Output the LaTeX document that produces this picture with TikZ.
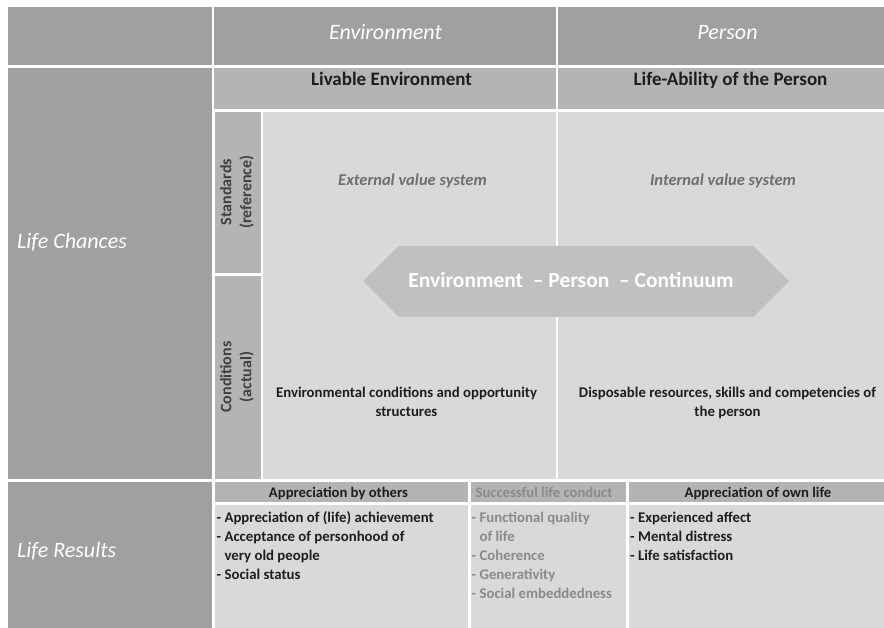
\documentclass[tikz,border=0pt]{standalone}
\usepackage{fontspec}
\setmainfont{Carlito}
\definecolor{hdr}{HTML}{A0A0A0}
\definecolor{sub}{HTML}{B4B4B4}
\definecolor{lite}{HTML}{D9D9D9}
\definecolor{hexc}{HTML}{C0C0C0}
\definecolor{grtxt}{HTML}{6E6E6E}
\definecolor{gr2}{HTML}{8A8A8A}
\definecolor{dark}{HTML}{1E1E1E}
\begin{document}
\begin{tikzpicture}[x=1pt,y=-1pt,
  hdrtext/.style={text=white,font=\fontsize{22}{24}\selectfont\itshape,inner sep=0pt,anchor=base},
  subtext/.style={text=dark,font=\fontsize{19}{22}\selectfont\bfseries,inner sep=0pt,anchor=base},
  sidetext/.style={text=dark!85,font=\fontsize{16}{20}\selectfont\bfseries,inner sep=0pt,rotate=90,align=center},
  valtext/.style={text=grtxt,font=\fontsize{16.5}{19}\selectfont\bfseries\itshape,inner sep=0pt,anchor=base},
  bodytext/.style={text=dark,font=\fontsize{14.8}{19}\selectfont\bfseries,inner sep=0pt,anchor=base},
  bhead/.style={text=dark,font=\fontsize{14.7}{17}\selectfont\bfseries,inner sep=0pt,anchor=base},
  listtext/.style={text=dark,font=\fontsize{14.8}{19}\selectfont\bfseries,inner sep=0pt,anchor=base west}]
\useasboundingbox[fill=white] (0,0) rectangle (884,628);
% header row
\fill[hdr] (8,7) rectangle (212,65);
\fill[hdr] (214,7) rectangle (556,65);
\fill[hdr] (558,7) rectangle (884,65);
% left column
\fill[hdr] (8,68) rectangle (212,479);
\fill[hdr] (8,482) rectangle (212,628);
% sub header
\fill[sub] (214,68) rectangle (556,109);
\fill[sub] (558,68) rectangle (884,109);
% side labels
\fill[sub] (215,112) rectangle (261,273);
\fill[sub] (215,276) rectangle (261,479);
% light areas
\fill[lite] (263,112) rectangle (556,479);
\fill[lite] (558,112) rectangle (884,479);
% bottom
\fill[sub] (215,482) rectangle (468,502);
\fill[sub] (471,482) rectangle (626,502);
\fill[sub] (629,482) rectangle (884,502);
\fill[lite] (215,505) rectangle (468,628);
\fill[lite] (471,505) rectangle (626,628);
\fill[lite] (629,505) rectangle (884,628);
% hexagon
\fill[hexc] (363,281) -- (399,246) -- (753,246) -- (789,281) -- (753,317) -- (399,317) -- cycle;

% texts
\node[hdrtext] (env) at (385.5,40) {Environment};
\node[hdrtext] (per) at (727.5,40) {Person};
\node[subtext] (liv) at (391.5,86) {Livable Environment};
\node[subtext] (abl) at (730.5,86) {Life-Ability of the Person};
\node[hdrtext,anchor=base west] (lch) at (17,249) {Life Chances};
\node[hdrtext,anchor=base west] (lres) at (17,557) {Life Results};
\node[sidetext] (std) at (237,192) {Standards\\(reference)};
\node[sidetext] (cond) at (237,377) {Conditions\\(actual)};
\node[valtext] (ext) at (412.5,186) {External value system};
\node[valtext] (int) at (723,186) {Internal\ value system};
\node[text=white,font=\fontsize{21.5}{24}\selectfont\bfseries,inner sep=0pt,anchor=base] (cont) at (571,288) {Environment\ \ – Person\ \ – Continuum};
\node[bodytext] (envc1) at (406.5,398) {Environmental conditions and opportunity};
\node[bodytext] (envc2) at (406.5,417) {structures};
\node[bodytext] (disp1) at (727.5,398) {Disposable resources, skills and competencies of};
\node[bodytext] (disp2) at (727.5,417) {the person};
\node[bhead] (aby) at (338.5,497.5) {Appreciation by others};
\node[bhead,text=gr2] (slc) at (544,497.5) {Successful life conduct};
\node[bhead] (aol) at (758,497.5) {Appreciation of own life};
% lists
\node[listtext] (a1) at (216.5,522.3) {- Appreciation of (life) achievement};
\node[listtext] (a2) at (216.5,541) {- Acceptance of personhood of};
\node[listtext] (a3) at (216.5,560) {\phantom{- }very old people};
\node[listtext] (a4) at (216.5,579) {- Social status};
\node[listtext,text=gr2] (b1) at (471.5,522.3) {- Functional quality};
\node[listtext,text=gr2] (b2) at (471.5,541) {\phantom{- }of life};
\node[listtext,text=gr2] (b3) at (471.5,560) {- Coherence};
\node[listtext,text=gr2] (b4) at (471.5,579) {- Generativity};
\node[listtext,text=gr2] (b5) at (471.5,598) {- Social embeddedness};
\node[listtext] (c1) at (630,522.3) {- Experienced affect};
\node[listtext] (c2) at (630,541) {- Mental distress};
\node[listtext] (c3) at (630,560) {- Life satisfaction};
\end{tikzpicture}
\end{document}
